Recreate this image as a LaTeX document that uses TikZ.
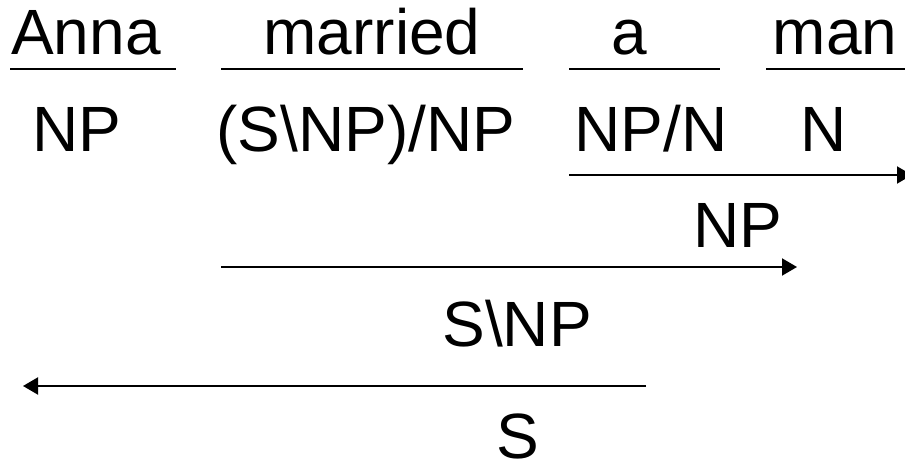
\documentclass[tikz,border=0pt]{standalone}
\usepackage{fontspec}
\setmainfont{Liberation Sans}
\usetikzlibrary{arrows.meta}
\begin{document}
\begin{tikzpicture}[x=1pt,y=-1pt,
  lbl/.style={anchor=base,inner sep=0pt,font=\fontsize{64}{70}\selectfont},
  rule/.style={line width=2pt},
  arr/.style={line width=2pt,-{Triangle[length=15pt,width=17pt]}}]
\useasboundingbox[fill=white] (0,0) rectangle (905,462);
\clip (0,0) rectangle (905,462);
% words
\node[lbl] (w1) at (86,55) {Anna};
\node[lbl] (w2) at (372,55) {married};
\node[lbl] (w3) at (629,55) {a};
\node[lbl] (w4) at (835,55) {man};
% categories
\node[lbl] (c1) at (77,152) {NP};
\node[lbl] (c2) at (366,152) {(S\textbackslash NP)/NP};
\node[lbl] (c3) at (651,152) {NP/N};
\node[lbl] (c4) at (824,152) {N};
\node[lbl] (r1) at (738,248) {NP};
\node[lbl] (r2) at (517,347) {S\textbackslash NP};
\node[lbl] (r3) at (518,458) {S};
% lexical rules
\coordinate (l1a) at (10,69);  \coordinate (l1b) at (176,69);
\coordinate (l2a) at (221,69); \coordinate (l2b) at (523,69);
\coordinate (l3a) at (569,69); \coordinate (l3b) at (720,69);
\coordinate (l4a) at (766,69); \coordinate (l4b) at (910,69);
\draw[rule] (l1a) -- (l1b);
\draw[rule] (l2a) -- (l2b);
\draw[rule] (l3a) -- (l3b);
\draw[rule] (l4a) -- (l4b);
% combination arrows
\coordinate (a1a) at (569,175); \coordinate (a1b) at (912,175);
\coordinate (a2a) at (221,267); \coordinate (a2b) at (797,267);
\coordinate (a3a) at (646,386); \coordinate (a3b) at (23,386);
\draw[arr] (a1a) -- (a1b);
\draw[arr] (a2a) -- (a2b);
\draw[arr] (a3a) -- (a3b);
\end{tikzpicture}
\end{document}
